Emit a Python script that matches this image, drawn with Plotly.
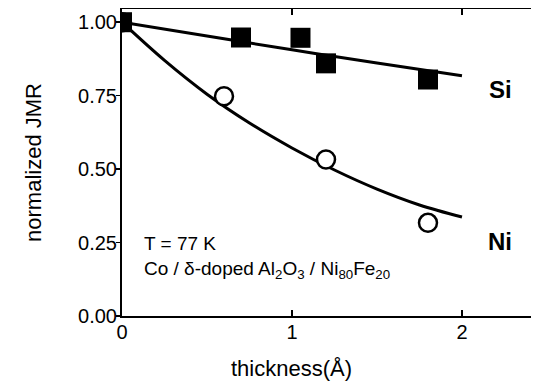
import plotly.graph_objects as go

# Measured data
si_x = [0.0, 0.70, 1.05, 1.20, 1.80]
si_y = [1.00, 0.948, 0.947, 0.86, 0.805]
ni_x = [0.0, 0.60, 1.20, 1.80]
ni_y = [1.00, 0.748, 0.533, 0.317]

# Fit curves
si_fit_x = [0.0, 0.5, 1.0, 1.5, 2.0]
si_fit_y = [1.00, 0.953, 0.906, 0.861, 0.818]
ni_fit_x = [0.0, 0.25, 0.5, 0.75, 1.0, 1.25, 1.5, 1.75, 2.0]
ni_fit_y = [1.00, 0.870, 0.755, 0.657, 0.572, 0.497, 0.432, 0.378, 0.337]

x_ticks = [0, 1, 2]
y_ticks = [0.0, 0.25, 0.5, 0.75, 1.0]
y_tick_text = ["0.00", "0.25", "0.50", "0.75", "1.00"]

font_family = "Liberation Sans, Arial, sans-serif"

fig = go.Figure()
fig.add_trace(go.Scatter(x=si_fit_x, y=si_fit_y, mode="lines",
                         line=dict(color="black", width=3, shape="spline"),
                         showlegend=False, hoverinfo="skip"))
fig.add_trace(go.Scatter(x=ni_fit_x, y=ni_fit_y, mode="lines",
                         line=dict(color="black", width=3, shape="spline"),
                         showlegend=False, hoverinfo="skip"))
fig.add_trace(go.Scatter(x=ni_x, y=ni_y, mode="markers",
                         marker=dict(symbol="circle", size=18, color="white",
                                     line=dict(color="black", width=2.5)),
                         showlegend=False, hoverinfo="skip"))
fig.add_trace(go.Scatter(x=si_x, y=si_y, mode="markers",
                         marker=dict(symbol="square", size=20, color="black",
                                     line=dict(width=0)),
                         showlegend=False, hoverinfo="skip"))

fig.add_annotation(x=2.224, y=0.772, text="<b>Si</b>", showarrow=False,
                   xanchor="center", yanchor="middle",
                   font=dict(size=24, color="black", family=font_family))
fig.add_annotation(x=2.224, y=0.255, text="<b>Ni</b>", showarrow=False,
                   xanchor="center", yanchor="middle",
                   font=dict(size=24, color="black", family=font_family))
fig.add_annotation(x=0.12, y=0.248, text="T = 77 K", showarrow=False,
                   xanchor="left", yanchor="middle",
                   font=dict(size=19, color="black", family=font_family))
fig.add_annotation(x=0.12, y=0.158,
                   text="Co / δ-doped Al<sub>2</sub>O<sub>3</sub> / Ni<sub>80</sub>Fe<sub>20</sub>",
                   showarrow=False, xanchor="left", yanchor="middle",
                   font=dict(size=19, color="black", family=font_family))
# x-axis title, centred under x = 1 as in the reference
fig.add_annotation(x=1.0, xref="x", y=0, yref="paper", yshift=-52,
                   text="thickness(Å)", showarrow=False,
                   xanchor="center", yanchor="middle",
                   font=dict(size=22, color="black", family=font_family))

# The page adds an 8px body margin, so the figure is sized and placed to match.
fig.update_layout(
    width=523, height=374,
    margin=dict(l=114, r=0, t=1, b=66),
    paper_bgcolor="white", plot_bgcolor="white",
    hovermode=False,
    font=dict(family=font_family, color="black", size=20),
    xaxis=dict(range=[0, 2.406], tickvals=x_ticks, ticktext=[str(v) for v in x_ticks],
               ticks="inside", ticklen=6, tickwidth=1.5, tickcolor="black",
               showline=True, linecolor="black", linewidth=2, mirror="ticks",
               showgrid=False, zeroline=False, automargin=False,
               ticklabelstandoff=-3,
               tickfont=dict(size=20)),
    yaxis=dict(range=[0, 1.045], tickvals=y_ticks, ticktext=y_tick_text,
               ticks="outside", ticklen=4, tickwidth=1.5, tickcolor="black",
               showline=True, linecolor="black", linewidth=2,
               showgrid=False, zeroline=False, automargin=False,
               ticklabelstandoff=-5,
               tickfont=dict(size=20),
               title=dict(text="normalized JMR", font=dict(size=22), standoff=30)),
)

fig.write_html("out.html", config={"displayModeBar": False, "staticPlot": True})
